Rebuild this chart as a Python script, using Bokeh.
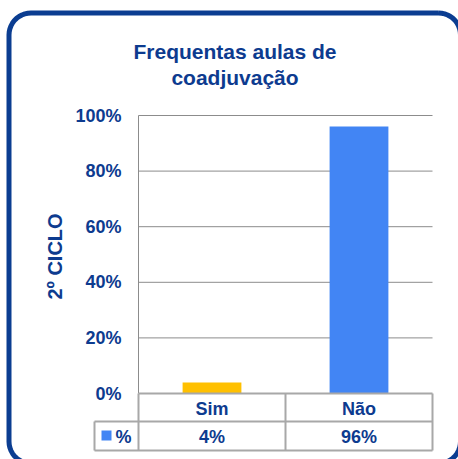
import numpy as np
from bokeh.plotting import figure
from bokeh.models import Range1d, ColumnDataSource
from bokeh.core.properties import value
from bokeh.embed import file_html
from bokeh.resources import INLINE

# ---------------- data ----------------
title_lines = ["Frequentas aulas de", "coadjuvação"]
categories = ["Sim", "Não"]
values = [4, 96]
bar_colors = ["#FFC000", "#4285F4"]
y_ticks = [0, 20, 40, 60, 80, 100]
y_tick_labels = ["0%", "20%", "40%", "60%", "80%", "100%"]
y_label = "2º CICLO"
series_name = "%"

# ---------------- style / layout ----------------
NAVY = "#0D3B8F"
BORDER = "#0B3D91"
GRID = "#8C8C8C"
TABLE = "#A8A8A8"
FONT = value("Liberation Sans")

W, H = 458, 459
PA_L, PA_R, PA_T, PA_B = 138, 432, 115, 393      # plot area (px)
ROW1_B, ROW2_B = 421, 450                         # data-table rows (px)
LEG_L = 94                                        # legend cell left (px)
Y_MAX = 100

n = len(categories)
kx = (PA_R - PA_L) / n
ky = (PA_B - PA_T) / Y_MAX
x_range = Range1d(-PA_L / kx, n + (W - PA_R) / kx)
y_range = Range1d(-(H - PA_B) / ky, Y_MAX + PA_T / ky)

p = figure(width=W, height=H, x_range=x_range, y_range=y_range,
           x_axis_location=None, y_axis_location=None, min_border=0,
           toolbar_location=None, output_backend="svg")
p.extra_x_ranges = {"px": Range1d(0, W)}
p.extra_y_ranges = {"px": Range1d(H, 0)}
p.xgrid.visible = False
p.ygrid.visible = False
p.outline_line_color = None
p.background_fill_color = "white"
p.border_fill_color = "white"

x_pos = [i + 0.5 for i in range(n)]
src = ColumnDataSource(dict(x=x_pos, cat=categories, val=values, color=bar_colors,
                            txt=[f"{v}%" for v in values]))

# gridlines (value axis)
grid_ticks = [t for t in y_ticks if t > 0]
p.segment(x0=[0] * len(grid_ticks), x1=[n] * len(grid_ticks), y0=grid_ticks, y1=grid_ticks,
          line_color=GRID, line_width=1)
# value-axis line
p.segment(x0=[0], x1=[0], y0=[0], y1=[Y_MAX], line_color=GRID, line_width=1)

# bars
p.vbar(x="x", top="val", bottom=0, width=0.4, fill_color="color", line_color=None, source=src)

# value-axis tick labels
p.text(x=[PA_L - 17] * len(y_ticks), y=y_ticks, text=y_tick_labels, x_range_name="px",
       text_font=FONT, text_font_style="bold", text_font_size="18px", text_color=NAVY,
       text_align="right", text_baseline="middle")

# value-axis title
p.text(x=[54], y=[(PA_T + PA_B) / 2 + 2], text=[y_label], angle=np.pi / 2,
       x_range_name="px", y_range_name="px",
       text_font=FONT, text_font_style="bold", text_font_size="20px", text_color=NAVY,
       text_align="center", text_baseline="middle")

# ---- data table ----
p.segment(x0=[0], x1=[n], y0=[0], y1=[0], line_color=TABLE, line_width=2)
p.segment(x0=[LEG_L, LEG_L], x1=[PA_R, PA_R], y0=[ROW1_B, ROW2_B], y1=[ROW1_B, ROW2_B],
          x_range_name="px", y_range_name="px", line_color=TABLE, line_width=2)
p.segment(x0=list(range(n + 1)), x1=list(range(n + 1)), y0=[PA_B] * (n + 1), y1=[ROW2_B] * (n + 1),
          y_range_name="px", line_color=TABLE, line_width=2)
p.segment(x0=[LEG_L], x1=[LEG_L], y0=[ROW1_B], y1=[ROW2_B],
          x_range_name="px", y_range_name="px", line_color=TABLE, line_width=2)

p.text(x="x", y=value((PA_B + ROW1_B) / 2 + 1), text="cat", source=src, y_range_name="px",
       text_font=FONT, text_font_style="bold", text_font_size="18px", text_color=NAVY,
       text_align="center", text_baseline="middle")
p.text(x="x", y=value((ROW1_B + ROW2_B) / 2 + 1), text="txt", source=src, y_range_name="px",
       text_font=FONT, text_font_style="bold", text_font_size="18px", text_color=NAVY,
       text_align="center", text_baseline="middle")

# legend key + series name
p.quad(left=[101], right=[111], top=[430], bottom=[440], x_range_name="px", y_range_name="px",
       fill_color=bar_colors[1], line_color=None)
p.text(x=[115], y=[(ROW1_B + ROW2_B) / 2 + 1], text=[series_name],
       x_range_name="px", y_range_name="px",
       text_font=FONT, text_font_style="bold", text_font_size="18px", text_color=NAVY,
       text_align="left", text_baseline="middle")

# ---- chart title ----
p.text(x=[234.5, 234.5], y=[50.5, 77], text=title_lines, x_range_name="px", y_range_name="px",
       text_font=FONT, text_font_style="bold", text_font_size="21px", text_color=NAVY,
       text_align="center", text_baseline="alphabetic")

# ---- rounded chart border ----
BL, BR, BT, BB, RAD = 8.5, 460, 12.5, 463, 22
def corner(cx, cy, a0, a1):
    t = np.radians(np.linspace(a0, a1, 12))
    return cx + RAD * np.cos(t), cy - RAD * np.sin(t)
parts = [corner(BR - RAD, BT + RAD, 90, 0), corner(BR - RAD, BB - RAD, 0, -90),
         corner(BL + RAD, BB - RAD, -90, -180), corner(BL + RAD, BT + RAD, 180, 90)]
bx = np.concatenate([q[0] for q in parts] + [parts[0][0][:1]])
by = np.concatenate([q[1] for q in parts] + [parts[0][1][:1]])
p.line(x=bx, y=by, x_range_name="px", y_range_name="px", line_color=BORDER,
       line_width=5, line_join="round")

open("out.html", "w").write(file_html(p, INLINE))
